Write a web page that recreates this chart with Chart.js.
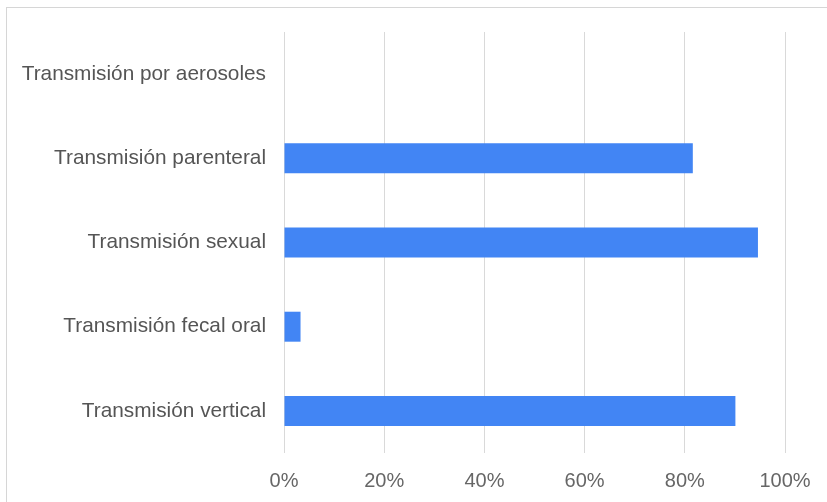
<!DOCTYPE html>
<html>
<head>
<meta charset="utf-8">
<script src="https://cdn.jsdelivr.net/npm/chart.js@4/dist/chart.umd.min.js"></script>
<style>
  html, body { margin: 0; padding: 0; background: #fff; }
  #wrap { position: relative; width: 827px; height: 502px; overflow: hidden; }
  #frame { position: absolute; left: 6px; top: 7px; right: -10px; bottom: -10px;
           border-top: 1px solid #d6d6d6; border-left: 1px solid #d6d6d6; pointer-events: none; }
  canvas { position: absolute; left: 0; top: 0; }
</style>
</head>
<body>
<div id="wrap">
  <canvas id="c" width="827" height="502"></canvas>
  <div id="frame"></div>
</div>
<script>
const categories = [
  "Transmisión por aerosoles",
  "Transmisión parenteral",
  "Transmisión sexual",
  "Transmisión fecal oral",
  "Transmisión vertical"
];
const values = [0, 81.6, 94.6, 3.3, 90.1];
const tickValues = [0, 20, 40, 60, 80, 100];
const tickSuffix = "%";

const FONT = "'Liberation Sans', Arial, sans-serif";

new Chart(document.getElementById('c'), {
  type: 'bar',
  data: {
    labels: categories,
    datasets: [{
      data: values,
      backgroundColor: '#4285f4',
      borderWidth: 0,
      barPercentage: 0.356,
      categoryPercentage: 1
    }]
  },
  options: {
    indexAxis: 'y',
    responsive: false,
    animation: false,
    devicePixelRatio: 1,
    layout: { padding: { top: 32, right: 42, left: 0, bottom: 0 } },
    plugins: { legend: { display: false }, tooltip: { enabled: false } },
    scales: {
      x: {
        min: 0, max: 100,
        afterBuildTicks: (axis) => { axis.ticks = tickValues.map(v => ({ value: v })); },
        afterFit: (axis) => { axis.height = 49; },
        grid: { color: '#d9d9d9', lineWidth: 1, drawTicks: false },
        border: { display: false },
        ticks: {
          padding: 16,
          color: '#666666',
          font: { family: FONT, size: 20 },
          callback: (v) => v + tickSuffix
        }
      },
      y: {
        afterFit: (axis) => { axis.width = 284; },
        grid: { display: false, drawTicks: false },
        border: { display: false },
        ticks: {
          padding: 18,
          color: '#555555',
          font: { family: FONT, size: 20.8 }
        }
      }
    }
  }
});
</script>
</body>
</html>
